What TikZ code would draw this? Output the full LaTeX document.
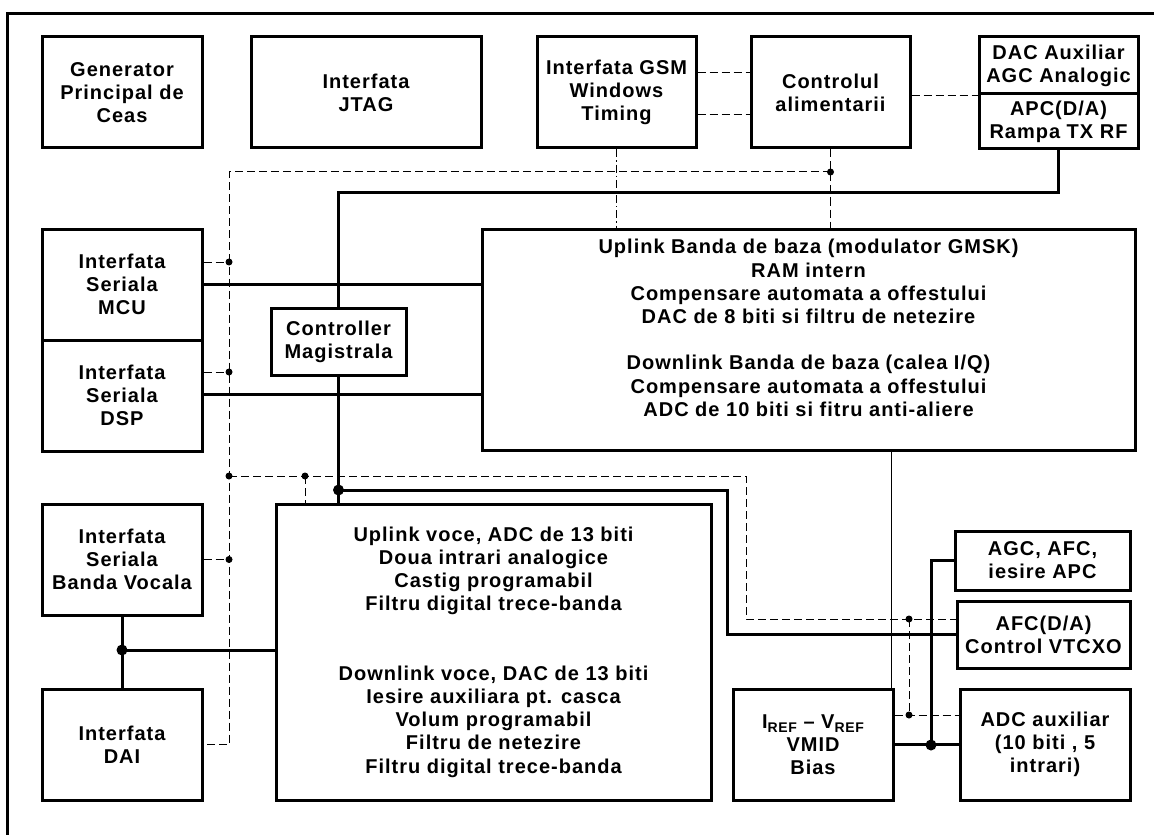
\documentclass[tikz,border=0pt]{standalone}
\usepackage{fontspec}
\setmainfont{Liberation Sans}[LetterSpace=5]
\newcommand{\refsub}[1]{\raisebox{-0.45ex}{\fontsize{7}{7}\selectfont #1}}

\begin{document}
\begin{tikzpicture}[
  x=0.5pt, y=-0.5pt,
  font=\bfseries\fontsize{10}{11.6}\selectfont,
  box/.style={
    draw, line width=1.5pt, align=center, inner sep=0pt,
    minimum width=80pt, minimum height=55.5pt,
  },
  bus/.style={line width=1.5pt},
  ctl/.style={line width=0.5pt, dash pattern=on 4pt off 2pt},
  gsmline/.style={line width=0.5pt, dash pattern=on 4pt off 1.5pt on 0.6pt off 1.5pt},
  wire/.style={line width=0.5pt},
  frame/.style={line width=1.5pt},
  sdot/.style={radius=1.75pt},
  bdot/.style={radius=2.75pt},
]
\useasboundingbox (0,0) rectangle (1154,834);

% ---- Outer frame (only top and left edges fall inside the page) ---------
\draw[frame] (7,860) -- (7,14) -- (1180,14);

% ---- Top row -------------------------------------------------------------
\node[box] (gen) at (122, 92.5) {Generator\\Principal de\\Ceas};
\node[box, minimum width=115pt] (jtag) at (366, 92.5) {Interfata\\JTAG};
\node[box, minimum width=79.5pt] (gsm) at (616.5, 92.5)
  {Interfata GSM\\Windows\\Timing};
\node[box, minimum width=79.5pt] (ctrl) at (830.5, 92.5)
  {Controlul\\alimentarii};
\node[box, minimum width=79.5pt, minimum height=28.5pt] (dactop) at (1058.5, 65.5)
  {DAC Auxiliar\\AGC Analogic};
\node[box, minimum width=79.5pt, minimum height=27.5pt] (dacbot) at (1058.5, 121.5)
  {APC(D/A)\\Rampa TX RF};

% ---- Baseband block and serial interfaces --------------------------------
\node[box, minimum width=326.5pt, minimum height=110.5pt] (base) at (808.5, 339.5)
  {Uplink Banda de baza (modulator GMSK)\\RAM intern\\
   Compensare automata a offestului\\DAC de 8 biti si filtru de netezire\\~\\
   Downlink Banda de baza (calea I/Q)\\Compensare automata a offestului\\
   ADC de 10 biti si fitru anti-aliere\\~};
\node[box] (mcu) at (122, 284.5) {Interfata\\Seriala\\MCU};
\node[box] (dsp) at (122, 395.5) {Interfata\\Seriala\\DSP};
\node[box, minimum width=67.5pt, minimum height=33.5pt] (busctl) at (338.5, 341.5)
  {Controller\\Magistrala};

% ---- Voice band ----------------------------------------------------------
\node[box, minimum width=217.5pt, minimum height=148pt] (voice) at (493.5, 652)
  {Uplink voce, ADC de 13 biti\\Doua intrari analogice\\Castig programabil\\
   Filtru digital trece-banda\\~\\~\\
   Downlink voce, DAC de 13 biti\\Iesire auxiliara pt. casca\\
   Volum programabil\\Filtru de netezire\\Filtru digital trece-banda};
\node[box] (bv) at (122, 559.5) {Interfata\\Seriala\\Banda Vocala};
\node[box] (dai) at (122, 744.5) {Interfata\\DAI};

% ---- Auxiliary analog blocks ---------------------------------------------
\node[box, minimum width=87.5pt, minimum height=29.5pt] (agc) at (1042.5, 560.5)
  {AGC, AFC,\\iesire APC};
\node[box, minimum width=86.5pt, minimum height=33.5pt] (afc) at (1043.5, 634.5)
  {AFC(D/A)\\Control VTCXO};
\node[box] (iref) at (813, 744.5)
  {I\refsub{REF} -- V\refsub{REF}\\VMID\\Bias};
\node[box, minimum width=85pt] (adc) at (1045, 744.5)
  {ADC auxiliar\\(10 biti , 5\\intrari)};

% ---- Junction points -----------------------------------------------------
\coordinate (ctop) at (229, 172);
\coordinate (cmid) at (229, 476);
\coordinate (cturn) at (746, 476);
\coordinate (vtap) at (305, 476);
\coordinate (jtop) at (338.5, 193);
\coordinate (jvoice) at (338.5, 490);
\coordinate (jturn) at (727, 490);
\coordinate (jdai) at (122, 650);
\coordinate (afctap) at (909, 619);
\coordinate (agcbus) at (931, 745);

% ---- Control net (dashed) ------------------------------------------------
\draw[ctl] (gsm.east |- 0,73) -- (ctrl.west |- 0,73);
\draw[ctl] (gsm.east |- 0,115) -- (ctrl.west |- 0,115);
\draw[ctl] (dactop.south west -| ctrl.east) -- (dactop.south west);
\draw[gsmline] (gsm.south) -- (gsm.south |- base.north);
\draw[ctl] (ctrl.south) -- (ctrl.south |- base.north);
\draw[ctl] (ctrl.south |- ctop) -- (ctop) |- (dai.east);
\draw[ctl] (mcu.east |- 0,262) -- (ctop |- 0,262);
\draw[ctl] (dsp.east |- 0,372) -- (ctop |- 0,372);
\draw[ctl] (bv.east) -- (bv.east -| ctop);
\draw[ctl] (cmid) -- (cturn) |- (afc.west |- afctap);
\draw[ctl] (vtap) -- (vtap |- voice.north);
\draw[ctl] (afctap) -- (afctap |- 0,715);
\draw[ctl] (iref.east |- 0,715) -- (adc.west |- 0,715);

% ---- Data buses (thick) --------------------------------------------------
\draw[bus] (dacbot.south) |- (jtop) -- (busctl.north);
\draw[bus] (mcu.east) -- (mcu.east -| base.west);
\draw[bus] (dsp.east |- 0,394) -- (base.west |- 0,394);
\draw[bus] (busctl.south) -- (busctl.south |- voice.north);
\draw[bus] (jvoice) -- (jturn) |- (afc.west);
\draw[bus] (bv.south) -- (dai.north);
\draw[bus] (jdai) -- (jdai -| voice.west);
\draw[bus] (agc.west) -| (agcbus);
\draw[bus] (iref.east) -- (adc.west);
\draw[wire] (base.south -| 891,0) -- (iref.north -| 891,0);

% ---- Dots ----------------------------------------------------------------
\foreach \p in {(ctop -| ctrl.south), (229,262), (229,372), (cmid), (bv.east -| ctop),
                (vtap), (afctap), (909,715)}
  \fill[sdot] \p circle;
\foreach \p in {(jvoice), (jdai), (agcbus)}
  \fill[bdot] \p circle;

\end{tikzpicture}
\end{document}
